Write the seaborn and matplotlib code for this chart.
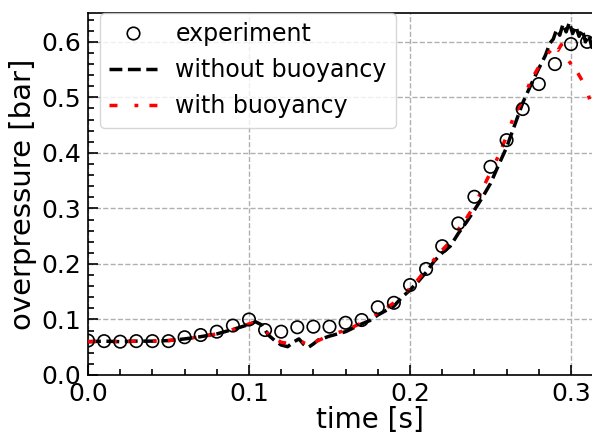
import numpy as np
import pandas as pd
import matplotlib
matplotlib.use("Agg")
import matplotlib.pyplot as plt
import seaborn as sns
from matplotlib.ticker import MultipleLocator
from matplotlib.lines import Line2D

# experiment (open circles)
exp_t = [0.00, 0.01, 0.02, 0.03, 0.04, 0.05, 0.06, 0.07, 0.08, 0.09, 0.10,
         0.11, 0.12, 0.13, 0.14, 0.15, 0.16, 0.17, 0.18, 0.19, 0.20, 0.21,
         0.22, 0.23, 0.24, 0.25, 0.26, 0.27, 0.28, 0.29, 0.30, 0.31]
exp_p = [0.062, 0.061, 0.060, 0.061, 0.061, 0.061, 0.068, 0.072, 0.078, 0.089, 0.100,
         0.081, 0.078, 0.086, 0.087, 0.087, 0.094, 0.099, 0.122, 0.130, 0.162, 0.191,
         0.232, 0.273, 0.321, 0.375, 0.423, 0.479, 0.524, 0.560, 0.596, 0.600]

# simulation without buoyancy (black dashed)
nob_t = [0.000, 0.010, 0.020, 0.030, 0.040, 0.050, 0.060, 0.070, 0.080, 0.090, 0.100,
         0.104, 0.108, 0.112, 0.116, 0.120, 0.124, 0.128, 0.131, 0.134, 0.137, 0.140,
         0.143, 0.146, 0.150, 0.155, 0.160, 0.165, 0.170, 0.175, 0.180, 0.185, 0.190,
         0.195, 0.200, 0.205, 0.210, 0.215, 0.220, 0.225, 0.230, 0.235, 0.240, 0.245,
         0.250, 0.255, 0.260, 0.265, 0.270, 0.275, 0.280, 0.284, 0.287, 0.289, 0.291,
         0.293, 0.295, 0.297, 0.299, 0.301, 0.303, 0.305, 0.307, 0.309, 0.311, 0.313,
         0.315]
nob_p = [0.060, 0.061, 0.060, 0.061, 0.061, 0.062, 0.065, 0.069, 0.074, 0.082, 0.091,
         0.096, 0.090, 0.072, 0.062, 0.054, 0.051, 0.060, 0.065, 0.055, 0.050, 0.056,
         0.063, 0.066, 0.070, 0.074, 0.078, 0.085, 0.092, 0.098, 0.108, 0.116, 0.124,
         0.140, 0.153, 0.168, 0.185, 0.205, 0.220, 0.232, 0.255, 0.275, 0.297, 0.320,
         0.345, 0.378, 0.410, 0.450, 0.490, 0.522, 0.552, 0.575, 0.598, 0.605, 0.622,
         0.612, 0.632, 0.618, 0.635, 0.615, 0.628, 0.610, 0.622, 0.600, 0.612, 0.590,
         0.595]

# simulation with buoyancy (red dash-dot)
wb_t = [0.000, 0.010, 0.020, 0.030, 0.040, 0.050, 0.060, 0.070, 0.080, 0.090, 0.100,
        0.104, 0.108, 0.112, 0.116, 0.120, 0.124, 0.128, 0.131, 0.134, 0.137, 0.140,
        0.143, 0.146, 0.150, 0.155, 0.160, 0.165, 0.170, 0.175, 0.180, 0.185, 0.190,
        0.195, 0.200, 0.205, 0.210, 0.215, 0.220, 0.225, 0.230, 0.235, 0.240, 0.245,
        0.250, 0.255, 0.260, 0.265, 0.270, 0.275, 0.280, 0.284, 0.287, 0.290, 0.292,
        0.294, 0.296, 0.298, 0.300, 0.302, 0.304, 0.306, 0.308, 0.310, 0.312, 0.314]
wb_p = [0.060, 0.061, 0.060, 0.061, 0.061, 0.062, 0.065, 0.069, 0.074, 0.082, 0.092,
        0.095, 0.088, 0.074, 0.066, 0.059, 0.057, 0.060, 0.064, 0.058, 0.055, 0.058,
        0.062, 0.066, 0.070, 0.076, 0.081, 0.087, 0.094, 0.102, 0.112, 0.120, 0.130,
        0.142, 0.156, 0.172, 0.190, 0.208, 0.225, 0.240, 0.262, 0.282, 0.305, 0.335,
        0.365, 0.395, 0.430, 0.470, 0.495, 0.530, 0.555, 0.575, 0.583, 0.592, 0.585,
        0.595, 0.575, 0.568, 0.560, 0.552, 0.545, 0.535, 0.525, 0.512, 0.492, 0.480]

labels = ["experiment", "without buoyancy", "with buoyancy"]

sns.set_style("white")
plt.rcParams['font.family'] = ['DejaVu Sans']
plt.rcParams.update({"text.color": "black", "axes.labelcolor": "black",
                     "xtick.color": "black", "ytick.color": "black"})

fig = plt.figure(figsize=(5.92, 4.33), dpi=100)
ax = fig.add_axes([88 / 592, 58 / 433, 563.5 / 592, 362 / 433])

red_ls = (0, (2.3, 4.9, 1.1, 3.2))

sns.lineplot(x=nob_t, y=nob_p, ax=ax, color="black", lw=2.5, linestyle="--",
             estimator=None, sort=False, zorder=3)
sns.lineplot(x=wb_t, y=wb_p, ax=ax, color="red", lw=2.5, linestyle=red_ls,
             estimator=None, sort=False, zorder=4)
sns.scatterplot(x=exp_t, y=exp_p, ax=ax, marker="o", s=80, color="black",
                facecolors="none", edgecolor="black", linewidth=1.2, zorder=5,
                clip_on=True)

ax.set_xlim(0, 0.35)
ax.set_ylim(0, 0.652)
ax.xaxis.set_major_locator(MultipleLocator(0.1))
ax.xaxis.set_minor_locator(MultipleLocator(0.02))
ax.yaxis.set_major_locator(MultipleLocator(0.1))
ax.yaxis.set_minor_locator(MultipleLocator(0.02))
ax.tick_params(which="both", direction="in", top=False, right=False,
               bottom=True, left=True, width=1.2, colors="black")
ax.tick_params(which="major", length=7, labelsize=18, pad=5)
ax.tick_params(which="minor", length=4)
ax.set_axisbelow(True)
ax.grid(True, which="major", linestyle="--", color="#b0b0b0", lw=1)
for s in ax.spines.values():
    s.set_color("black")
    s.set_linewidth(1.2)

ax.set_xlabel("time [s]", fontsize=20, labelpad=0)
ax.set_ylabel("overpressure [bar]", fontsize=21, labelpad=3)

handles = [
    Line2D([], [], marker="o", ls="none", mfc="none", mec="black", ms=9, mew=1.2),
    Line2D([], [], color="black", lw=2.5, ls="--"),
    Line2D([], [], color="red", lw=2.5, ls=red_ls),
]
ax.legend(handles, labels, loc="upper left", bbox_to_anchor=(0.021, 1.0),
          borderaxespad=0, fontsize=17, frameon=True, fancybox=True,
          edgecolor="#cccccc", framealpha=0.8)

fig.savefig("out.png", dpi=100)
